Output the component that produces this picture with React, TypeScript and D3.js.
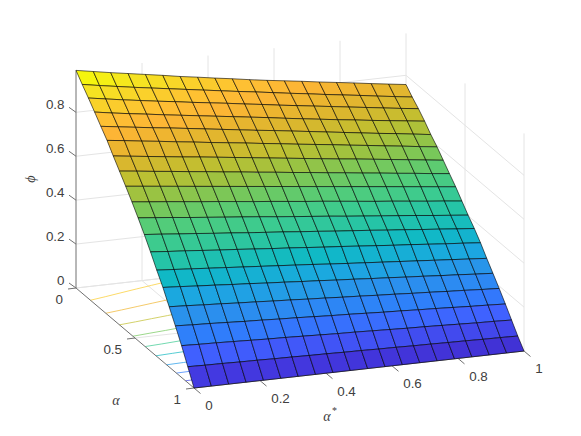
import React from "react";
import * as d3 from "d3";

const width = 581;
const height = 436;

// grid of the surface, 20 x 20 nodes
const alphaStarValues = d3.range(20).map((j) => j / 19);
const alphaValues = d3.range(20).map((k) => k / 19);

// phi, one row per alpha
const phiRows = [
  [.991,.977,.963,.950,.937,.924,.910,.898,.885,.873,.860,.848,.837,.826,.814,.803,.792,.780,.769,.758],
  [.951,.937,.924,.911,.899,.887,.875,.863,.851,.839,.828,.816,.804,.793,.781,.770,.759,.747,.736,.725],
  [.913,.900,.887,.875,.863,.852,.840,.829,.818,.806,.795,.783,.772,.761,.750,.739,.728,.717,.706,.696],
  [.873,.860,.848,.837,.825,.814,.803,.792,.781,.770,.759,.747,.736,.725,.714,.704,.693,.683,.673,.663],
  [.832,.821,.810,.799,.789,.778,.767,.756,.745,.734,.724,.713,.702,.691,.680,.669,.658,.648,.637,.626],
  [.792,.782,.771,.761,.750,.740,.729,.719,.709,.698,.688,.677,.667,.657,.646,.636,.625,.615,.604,.594],
  [.745,.735,.725,.715,.705,.696,.686,.676,.666,.656,.646,.636,.626,.616,.607,.597,.587,.577,.567,.557],
  [.700,.691,.681,.672,.662,.653,.643,.634,.624,.615,.605,.596,.586,.577,.567,.558,.548,.539,.529,.520],
  [.655,.646,.637,.628,.619,.610,.601,.592,.583,.574,.565,.556,.547,.538,.529,.520,.511,.502,.493,.484],
  [.608,.599,.591,.582,.573,.565,.556,.547,.539,.530,.521,.513,.504,.495,.486,.478,.469,.460,.452,.443],
  [.559,.551,.543,.534,.526,.518,.510,.502,.493,.485,.477,.469,.460,.452,.444,.436,.428,.419,.411,.403],
  [.507,.500,.492,.485,.477,.470,.462,.455,.448,.440,.433,.425,.418,.411,.403,.396,.388,.381,.373,.366],
  [.452,.445,.439,.432,.425,.419,.412,.405,.399,.392,.385,.379,.372,.365,.358,.352,.345,.338,.332,.325],
  [.393,.387,.381,.375,.369,.363,.357,.351,.345,.339,.332,.326,.320,.314,.308,.302,.296,.290,.284,.278],
  [.338,.333,.327,.322,.316,.311,.305,.300,.294,.289,.283,.278,.272,.267,.261,.256,.250,.245,.239,.234],
  [.274,.270,.265,.261,.256,.252,.247,.243,.238,.234,.229,.225,.220,.216,.211,.207,.202,.198,.193,.189],
  [.211,.207,.204,.200,.196,.193,.189,.186,.182,.178,.175,.171,.167,.164,.160,.157,.153,.149,.146,.142],
  [.145,.142,.140,.137,.134,.131,.129,.126,.123,.120,.118,.115,.112,.109,.107,.104,.101,.098,.096,.093],
  [.073,.071,.070,.068,.067,.065,.064,.062,.061,.059,.058,.056,.055,.053,.052,.050,.049,.047,.046,.044],
  [0,0,0,0,0,0,0,0,0,0,0,0,0,0,0,0,0,0,0,0],
];

const alphaStarTicks = [0, 0.2, 0.4, 0.6, 0.8, 1];
const alphaTicks = [0, 0.5, 1];
const phiTicks = [0, 0.2, 0.4, 0.6, 0.8];
const contourLevels = [0.1, 0.2, 0.3, 0.4, 0.5, 0.6, 0.7, 0.8, 0.9];

// colormap, sampled from the cells of the reference
const colorPositions = [0, 0.07, 0.146, 0.21, 0.277, 0.34, 0.396, 0.456, 0.51, 0.56, 0.61, 0.66, 0.706, 0.75, 0.8, 0.84, 0.88, 0.96, 1];
const colorValues = ["#3e26c0", "#4338e0", "#4060ff", "#2f7ffb", "#2a92ec", "#1ba8e0", "#10b9c5", "#25c4a7", "#3ccb8f", "#54cc78", "#78c85a", "#a0c23f", "#c1bf30", "#d8b72e", "#ecb52f", "#fdb535", "#fec033", "#f5e322", "#f5f50e"];

const zTop = d3.max(phiRows.flat()) as number;

// the 3d box is an orthographic view, so each data axis is one linear screen offset
const starX = d3.scaleLinear().domain([0, 1]).range([0, 330]);
const starY = d3.scaleLinear().domain([0, 1]).range([0, -37]);
const alphaX = d3.scaleLinear().domain([0, 1]).range([0, 118]);
const alphaY = d3.scaleLinear().domain([0, 1]).range([0, 100]);
const phiY = d3.scaleLinear().domain([0, 1]).range([0, -219.6]);

const px = (s: number, a: number) => 76 + starX(s) + alphaX(a);
const py = (s: number, a: number, z: number) => 288 + starY(s) + alphaY(a) + phiY(z);

const color = d3
  .scaleLinear<string>()
  .domain(colorPositions.map((p) => p * zTop))
  .range(colorValues);

const seg = (s0: number, a0: number, z0: number, s1: number, a1: number, z1: number) =>
  `M${px(s0, a0)},${py(s0, a0, z0)}L${px(s1, a1)},${py(s1, a1, z1)}`;

// floor contour of one level: alpha where phi crosses it, column by column
function contourPath(level: number) {
  const pts: [number, number][] = [];
  alphaStarValues.forEach((s, j) => {
    for (let k = 0; k < 19; k++) {
      const z0 = phiRows[k][j];
      const z1 = phiRows[k + 1][j];
      if (z0 >= level && z1 < level) {
        const a = alphaValues[k] + ((z0 - level) / (z0 - z1)) * (alphaValues[k + 1] - alphaValues[k]);
        pts.push([px(s, a), py(s, a, 0)]);
        break;
      }
    }
  });
  return d3.line()(pts) as string;
}

const labelFont = "Liberation Sans, Arial, sans-serif";
const gridColor = "#e4e4e4";
const axisColor = "#707070";
const textColor = "#404040";

export default function App() {
  const cells: { d: string; fill: string }[] = [];
  for (let k = 0; k < 19; k++) {
    for (let j = 0; j < 19; j++) {
      const corners: [number, number][] = [
        [k, j],
        [k, j + 1],
        [k + 1, j + 1],
        [k + 1, j],
      ];
      const d = corners
        .map(([r, c], i) => `${i ? "L" : "M"}${px(alphaStarValues[c], alphaValues[r])},${py(alphaStarValues[c], alphaValues[r], phiRows[r][c])}`)
        .join("") + "Z";
      cells.push({ d, fill: color(phiRows[k][j]) });
    }
  }

  return (
    <svg width={width} height={height} style={{ position: "absolute", left: 0, top: 0, background: "#fff" }}>
      {/* walls and floor grid */}
      <g fill="none" stroke={gridColor} strokeWidth={1}>
        {phiTicks.map((z) => (
          <path key={"zb" + z} d={seg(0, 0, z, 1, 0, z) + seg(1, 0, z, 1, 1, z)} />
        ))}
        {alphaStarTicks.slice(1).map((s) => (
          <path key={"sv" + s} d={seg(s, 0, 0, s, 0, zTop)} />
        ))}
        {alphaTicks.slice(1).map((a) => (
          <path key={"av" + a} d={seg(1, a, 0, 1, a, zTop)} />
        ))}
        {alphaStarTicks.slice(1).map((s) => (
          <path key={"sf" + s} d={seg(s, 0, 0, s, 1, 0)} />
        ))}
        {alphaTicks.map((a) => (
          <path key={"af" + a} d={seg(0, a, 0, 1, a, 0)} />
        ))}
      </g>

      {/* contours on the floor */}
      <g fill="none" strokeWidth={0.9} strokeOpacity={0.8}>
        {contourLevels.map((l) => (
          <path key={l} d={contourPath(l)} stroke={color(l)} />
        ))}
      </g>

      {/* axes */}
      <g fill="none" stroke={axisColor} strokeWidth={1}>
        <path d={seg(0, 0, 0, 0, 0, zTop)} />
        <path d={seg(0, 0, 0, 0, 1, 0)} />
        <path d={seg(0, 1, 0, 1, 1, 0)} />
        {phiTicks.map((z) => (
          <line key={z} x1={px(0, 0)} y1={py(0, 0, z)} x2={px(0, 0) - 7} y2={py(0, 0, z) - 5} />
        ))}
        {alphaTicks.map((a) => (
          <line key={a} x1={px(0, a)} y1={py(0, a, 0)} x2={px(0, a) - 8} y2={py(0, a, 0) + 1} />
        ))}
        {alphaStarTicks.map((s) => (
          <line key={s} x1={px(s, 1)} y1={py(s, 1, 0)} x2={px(s, 1) + 6.5} y2={py(s, 1, 0) + 5.5} />
        ))}
      </g>

      {/* surface */}
      <g stroke="#000" strokeOpacity={0.8} strokeWidth={0.75} strokeLinejoin="round">
        {cells.map((c, i) => (
          <path key={i} d={c.d} fill={c.fill} />
        ))}
      </g>

      {/* tick labels */}
      <g fontFamily={labelFont} fontSize={13.4} fill={textColor}>
        {phiTicks.map((z) => (
          <text key={z} x={px(0, 0) - 11.5} y={py(0, 0, z) - 8} dy="0.36em" textAnchor="end">
            {String(z)}
          </text>
        ))}
        {alphaTicks.map((a) => (
          <text key={a} x={px(0, a) - 13} y={py(0, a, 0) + 11.5} dy="0.36em" textAnchor="end">
            {String(a)}
          </text>
        ))}
        {alphaStarTicks.map((s) => (
          <text key={s} x={px(s, 1) + (s === 0 || s === 1 ? 15 : 20.5)} y={py(s, 1, 0) + 17.5} dy="0.36em" textAnchor="middle">
            {String(s)}
          </text>
        ))}
      </g>

      {/* axis labels */}
      <g fontFamily="Liberation Serif, serif" fontStyle="italic" fontSize={14} fill={textColor}>
        <text x={31} y={179} textAnchor="middle" dy="0.3em" transform="rotate(-90 31 179)">
          ϕ
        </text>
        <text x={116} y={401} textAnchor="middle" dy="0.25em">
          α
        </text>
        <text x={327} y={417} textAnchor="middle" dy="0.25em">
          α
        </text>
        <text x={332} y={414} fontSize={10} fontStyle="normal">
          *
        </text>
      </g>
    </svg>
  );
}
